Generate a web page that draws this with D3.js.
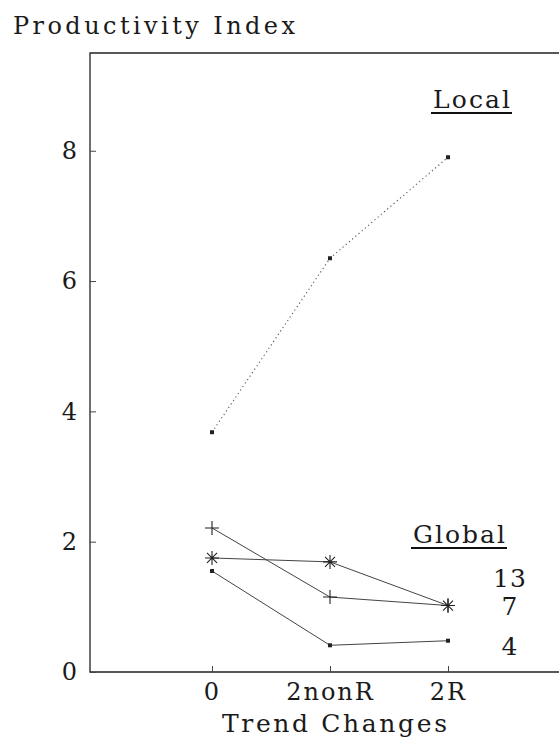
<!DOCTYPE html>
<html>
<head>
<meta charset="utf-8">
<script src="https://cdn.jsdelivr.net/npm/d3@7"></script>
<style>
  body { margin: 0; background: #fff; }
  svg { display: block; }
  text { font-family: "DejaVu Serif", serif; fill: #1a1a1a; }
</style>
</head>
<body>
<div id="main"></div>
<script>
const categories = ["0", "2nonR", "2R"];
const yTicks = [0, 2, 4, 6, 8];
const local = [3.68, 6.35, 7.9];
const global13 = [1.75, 1.69, 1.02];
const global7 = [2.21, 1.15, 1.02];
const global4 = [1.55, 0.41, 0.48];
const globalLabels = ["13", "7", "4"];

const width = 559;
const height = 746;
const plotLeft = 90, plotTop = 53, plotBottom = 672;

const svg = d3.select("#main").append("svg")
  .attr("width", width)
  .attr("height", height);

const x = d3.scalePoint()
  .domain(categories)
  .range([212, 448]);

const y = d3.scaleLinear()
  .domain([0, 9.5])
  .range([plotBottom, plotTop]);

// frame: top, left, bottom (right side runs off the page)
svg.append("path")
  .attr("d", `M${width + 5},${plotTop}H${plotLeft}V${plotBottom}H${width + 5}`)
  .attr("fill", "none")
  .attr("stroke", "#222")
  .attr("stroke-width", 1.3);

// y axis
const yAxis = svg.append("g")
  .attr("transform", `translate(${plotLeft},0)`)
  .call(d3.axisLeft(y).tickValues(yTicks).tickSize(-6).tickPadding(13).tickFormat(d3.format("d")));
yAxis.select(".domain").remove();
yAxis.selectAll("line").attr("stroke", "#444");
yAxis.selectAll("text")
  .attr("font-size", 24)
  .attr("font-family", "DejaVu Serif")
  .attr("fill", "#1a1a1a");

// x axis
const xAxis = svg.append("g")
  .attr("transform", `translate(0,${plotBottom})`)
  .call(d3.axisBottom(x).tickSize(-6).tickPadding(11));
xAxis.select(".domain").remove();
xAxis.selectAll("line").attr("stroke", "#444");
xAxis.selectAll("text")
  .attr("font-size", 24)
  .attr("font-family", "DejaVu Serif")
  .attr("letter-spacing", 2)
  .attr("fill", "#1a1a1a");

// titles
svg.append("text")
  .attr("x", 13).attr("y", 34)
  .attr("font-size", 24)
  .attr("textLength", 282)
  .attr("lengthAdjust", "spacing")
  .text("Productivity Index");

svg.append("text")
  .attr("x", 222).attr("y", 732)
  .attr("font-size", 25)
  .attr("textLength", 225)
  .attr("lengthAdjust", "spacing")
  .text("Trend Changes");

// line generator
const line = d3.line()
  .x((d, i) => x(categories[i]))
  .y(d => y(d));

// local series (dotted)
svg.append("path")
  .attr("d", line(local))
  .attr("fill", "none")
  .attr("stroke", "#555")
  .attr("stroke-width", 1.1)
  .attr("stroke-dasharray", "1.2,3");

const squares = (g, data, s) => {
  g.selectAll(null)
    .data(data)
    .enter()
    .append("rect")
    .attr("x", (d, i) => x(categories[i]) - s / 2)
    .attr("y", d => y(d) - s / 2)
    .attr("width", s)
    .attr("height", s)
    .attr("fill", "#222");
};

squares(svg.append("g"), local, 4);

// global series
[global13, global7, global4].forEach(data => {
  svg.append("path")
    .attr("d", line(data))
    .attr("fill", "none")
    .attr("stroke", "#444")
    .attr("stroke-width", 1);
});

// plus markers
svg.append("g").selectAll("path")
  .data(global7)
  .enter()
  .append("path")
  .attr("transform", (d, i) => `translate(${x(categories[i])},${y(d)})`)
  .attr("d", "M-7,0H7M0,-7V7")
  .attr("stroke", "#222")
  .attr("stroke-width", 1.1);

// asterisk markers
svg.append("g").selectAll("path")
  .data(global13)
  .enter()
  .append("path")
  .attr("transform", (d, i) => `translate(${x(categories[i])},${y(d)})`)
  .attr("d", "M-7,0H7M0,-7V7M-5,-5L5,5M-5,5L5,-5")
  .attr("stroke", "#222")
  .attr("stroke-width", 1.1);

squares(svg.append("g"), global4, 4);

// legend headings
const heading = (label, x0, yb, w) => {
  svg.append("text")
    .attr("x", x0).attr("y", yb)
    .attr("font-size", 25)
    .attr("textLength", w)
    .attr("lengthAdjust", "spacing")
    .text(label);
  svg.append("line")
    .attr("x1", x0 - 2).attr("x2", x0 + w + 2)
    .attr("y1", yb + 5).attr("y2", yb + 5)
    .attr("stroke", "#111")
    .attr("stroke-width", 2);
};
heading("Local", 433, 108, 77);
heading("Global", 413, 543, 92);

svg.append("g").selectAll("text")
  .data(globalLabels)
  .enter()
  .append("text")
  .attr("x", 510)
  .attr("y", (d, i) => [587, 615, 655][i])
  .attr("text-anchor", "middle")
  .attr("font-size", 25)
  .attr("letter-spacing", 1)
  .text(d => d);
</script>
</body>
</html>
